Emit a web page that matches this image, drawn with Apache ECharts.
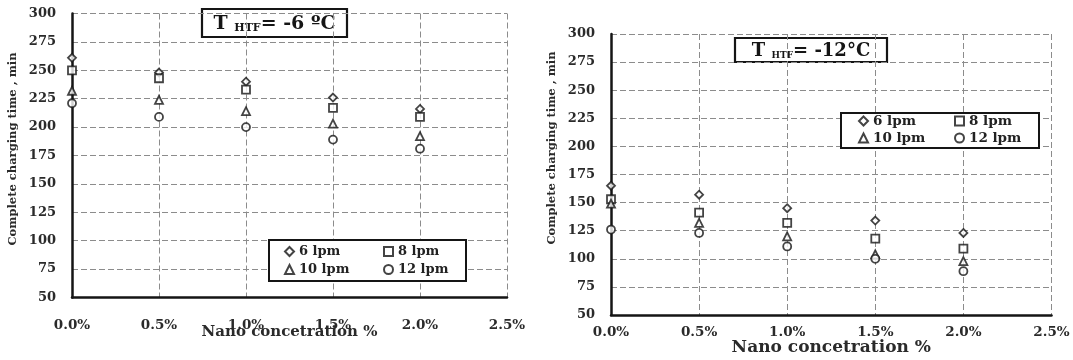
<!DOCTYPE html>
<html>
<head>
<meta charset="utf-8">
<script src="https://cdn.jsdelivr.net/npm/echarts@6/dist/echarts.min.js"></script>
<style>
  html, body { margin: 0; padding: 0; background: #fff; }
  #chart { width: 1073px; height: 360px; }
</style>
</head>
<body>
<div id="chart"></div>
<script>
// Nano concentration (%) on the x axis, shared by both panels
const nanoConcentration = [0, 0.5, 1.0, 1.5, 2.0];
const flowRates = ['6 lpm', '8 lpm', '10 lpm', '12 lpm'];
const markerShapes = ['diamond', 'rect', 'triangle', 'circle'];

// Complete charging time (min), HTF at -6 °C
const htfMinus6_6lpm  = [261, 248, 240, 226, 216];
const htfMinus6_8lpm  = [250, 243, 233, 217, 209];
const htfMinus6_10lpm = [232, 224, 214, 203, 192];
const htfMinus6_12lpm = [221, 209, 200, 189, 181];

// Complete charging time (min), HTF at -12 °C
const htfMinus12_6lpm  = [165, 157, 145, 134, 123];
const htfMinus12_8lpm  = [153, 141, 132, 118, 109];
const htfMinus12_10lpm = [149, 132, 120, 104, 98];
const htfMinus12_12lpm = [126, 123, 111, 100, 89];

const yMin = 50, yMax = 300, yStep = 25;
const xMin = 0, xMax = 2.5, xStep = 0.5;

const panels = [
  [htfMinus6_6lpm, htfMinus6_8lpm, htfMinus6_10lpm, htfMinus6_12lpm],
  [htfMinus12_6lpm, htfMinus12_8lpm, htfMinus12_10lpm, htfMinus12_12lpm]
];

const FONT = 'DejaVu Serif';
const INK = '#151515';
const TEXT = '#2a2a2a';
const GRIDLINE = { color: '#8c8c8c', type: [6, 3], width: 1 };

function xAxisFor(idx, labelMargin, nameGap, nameSize) {
  return {
    type: 'value', gridIndex: idx, min: xMin, max: xMax, interval: xStep,
    axisLine: { show: true, onZero: false, lineStyle: { color: INK, width: 2.5 } },
    axisTick: { show: false },
    axisLabel: {
      margin: labelMargin, color: TEXT, fontFamily: FONT, fontWeight: 'bold', fontSize: 13.5,
      formatter: v => v.toFixed(1) + '%'
    },
    splitLine: { show: true, lineStyle: GRIDLINE },
    name: 'Nano concetration %', nameLocation: 'middle', nameGap: nameGap, nameMoveOverlap: false,
    nameTextStyle: { color: TEXT, fontFamily: FONT, fontWeight: 'bold', fontSize: nameSize }
  };
}

function yAxisFor(idx) {
  return {
    type: 'value', gridIndex: idx, min: yMin, max: yMax, interval: yStep,
    axisLine: { show: true, onZero: false, lineStyle: { color: INK, width: 2.5 } },
    axisTick: { show: false },
    axisLabel: { margin: 16, color: TEXT, fontFamily: FONT, fontWeight: 'bold', fontSize: 13 },
    splitLine: { show: true, lineStyle: GRIDLINE }
  };
}

const series = [];
panels.forEach((sets, p) => {
  sets.forEach((values, j) => {
    series.push({
      type: 'scatter', name: flowRates[j], xAxisIndex: p, yAxisIndex: p,
      symbol: markerShapes[j], symbolSize: 8,
      itemStyle: { color: '#fff', borderColor: INK, borderWidth: 1.8 },
      data: nanoConcentration.map((x, k) => [x, values[k]])
    });
  });
});

function legendColumn(names, left, top, gap, size) {
  return {
    data: names, orient: 'vertical', left: left, top: top, itemGap: gap,
    itemWidth: 9, itemHeight: 9, padding: 0, selectedMode: false,
    textStyle: { color: '#222', fontFamily: FONT, fontWeight: 'bold', fontSize: size }
  };
}

// Boxed panel label "T_HTF = ..." with HTF as a subscript
function panelLabel(x, y, w, h, degrees, bigSize, subSize, subDrop) {
  return {
    type: 'group', z: 10,
    children: [
      { type: 'rect', shape: { x: x, y: y, width: w, height: h },
        style: { fill: '#fff', stroke: INK, lineWidth: 2.2 } },
      { type: 'text', x: x + w / 2, y: y + h / 2 + 1,
        style: {
          text: '{t|T }{s|HTF}{t|= ' + degrees + '}',
          align: 'center', verticalAlign: 'middle',
          rich: {
            t: { fontFamily: FONT, fontWeight: 'bold', fontSize: bigSize, fill: INK },
            s: { fontFamily: FONT, fontWeight: 'bold', fontSize: subSize, fill: INK,
                 verticalAlign: 'bottom', padding: [subDrop, 0, 0, 0] }
          }
        } }
    ]
  };
}

// Rotated y-axis title
function yTitle(x, y, size) {
  return {
    type: 'text', x: x, y: y, rotation: Math.PI / 2, z: 10,
    style: {
      text: 'Complete charging time , min', align: 'center', verticalAlign: 'middle',
      fontFamily: FONT, fontWeight: 'bold', fontSize: size, fill: TEXT
    }
  };
}

const option = {
  backgroundColor: '#fff',
  animation: false,
  grid: [
    { left: 72, top: 13.5, width: 435, height: 284, outerBoundsMode: 'none' },
    { left: 611, top: 34, width: 440.5, height: 281, outerBoundsMode: 'none' }
  ],
  xAxis: [xAxisFor(0, 21, 27, 15), xAxisFor(1, 10, 24, 17)],
  yAxis: [yAxisFor(0), yAxisFor(1)],
  legend: [
    legendColumn(['6 lpm', '10 lpm'], 284, 245, 5, 13),
    legendColumn(['8 lpm', '12 lpm'], 383, 245, 5, 13),
    legendColumn(['6 lpm', '10 lpm'], 858, 114, 3, 13.5),
    legendColumn(['8 lpm', '12 lpm'], 954, 114, 3, 13.5)
  ],
  graphic: [
    { type: 'rect', shape: { x: 269, y: 240, width: 197, height: 41 },
      style: { fill: '#fff', stroke: INK, lineWidth: 2 }, z: 1 },
    { type: 'rect', shape: { x: 841, y: 113, width: 198, height: 35 },
      style: { fill: '#fff', stroke: INK, lineWidth: 2 }, z: 1 },
    panelLabel(202, 9, 145, 28, '-6 ºC', 19, 11, 8),
    panelLabel(735, 38, 152, 24, '-12°C', 18, 9, 7),
    yTitle(13, 149, 11.5),
    yTitle(552, 148, 11.5)
  ],
  series: series
};

const chart = echarts.init(document.getElementById('chart'), null, { renderer: 'canvas' });
chart.setOption(option);
</script>
</body>
</html>
